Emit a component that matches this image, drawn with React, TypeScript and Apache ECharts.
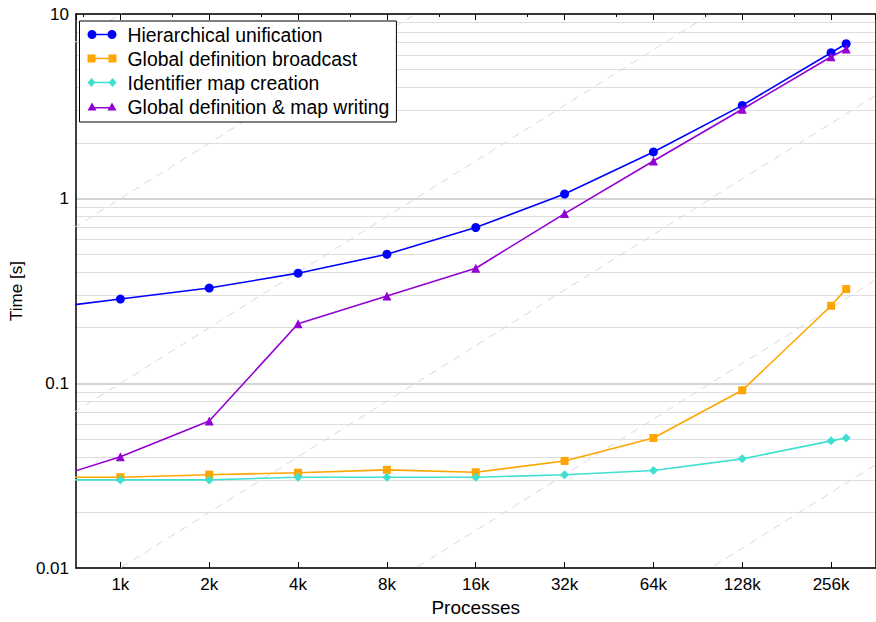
import React, { useEffect, useRef } from "react";
import * as echarts from "echarts";

const processes = [512, 1024, 2048, 4096, 8192, 16384, 32768, 65536, 131072, 262144, 294912];
const hierarchical = [0.25, 0.286, 0.328, 0.395, 0.5, 0.698, 1.06, 1.79, 3.2, 6.17, 6.9];
const broadcast = [0.031, 0.031, 0.032, 0.0328, 0.034, 0.033, 0.038, 0.0506, 0.0917, 0.263, 0.324];
const mapCreation = [0.03, 0.03, 0.03, 0.031, 0.031, 0.031, 0.032, 0.0337, 0.039, 0.0488, 0.0506];
const mapWriting = [0.0283, 0.04, 0.0625, 0.21, 0.297, 0.42, 0.83, 1.6, 3.05, 5.87, 6.46];

const seriesNames = [
  "Hierarchical unification",
  "Global definition broadcast",
  "Identifier map creation",
  "Global definition & map writing",
];
const seriesColors = ["#0000ff", "#ffa500", "#40e0d0", "#9400d3"];
const seriesSymbols = ["circle", "rect", "diamond", "triangle"];
const seriesSizes = [9, 8, 9, 9];

// legend icons: line with a marker at each end (29 x 9 box)
const legendIcons = [
  "path://M4.5,3.75L24.5,3.75L24.5,5.25L4.5,5.25Z M0,4.5a4.5,4.5 0 1,1 9,0a4.5,4.5 0 1,1 -9,0Z M20,4.5a4.5,4.5 0 1,1 9,0a4.5,4.5 0 1,1 -9,0Z",
  "path://M4,3.75L25,3.75L25,5.25L4,5.25Z M0,0.5L8,0.5L8,8.5L0,8.5Z M21,0.5L29,0.5L29,8.5L21,8.5Z",
  "path://M4,3.75L25,3.75L25,5.25L4,5.25Z M4,0L8,4.5L4,9L0,4.5Z M25,0L29,4.5L25,9L21,4.5Z",
  "path://M4.5,5L24.5,5L24.5,6.5L4.5,6.5Z M4.5,0.5L9,8.5L0,8.5Z M24.5,0.5L29,8.5L20,8.5Z",
];

// minor horizontal grid lines (2..9 × decade)
const minorGrid = [
  0.02, 0.03, 0.04, 0.05, 0.06, 0.07, 0.08, 0.09,
  0.2, 0.3, 0.4, 0.5, 0.6, 0.7, 0.8, 0.9,
  2, 3, 4, 5, 6, 7, 8, 9,
];
// ideal linear-scaling reference lines: time at 1k processes
const idealAt1k = [0.0001, 0.001, 0.01, 0.1, 1, 10];
const idealRange = [256, 1048576];

const X_MIN = Math.pow(2, 9.5);
const X_MAX = Math.pow(2, 18.5);
const FONT = "Liberation Sans, Arial, Helvetica, sans-serif";

export default function App() {
  const ref = useRef<HTMLDivElement>(null);
  useEffect(() => {
    if (!ref.current) return;
    const chart = echarts.init(ref.current, undefined, { renderer: "svg" });
    const xFmt = (v: number) => Math.round(v / 1024) + "k";
    const yFmt = (v: number) => {
      const r = Math.round(Math.log10(v));
      const p = Math.pow(10, r);
      return r >= 0 ? String(p) : p.toFixed(-r);
    };
    const baseX = {
      type: "log" as const,
      logBase: 2,
      min: X_MIN,
      max: X_MAX,
      splitNumber: 9,
      axisLine: { show: true, lineStyle: { color: "#000", width: 1.5 } },
      axisTick: { show: true, inside: true, length: 6, lineStyle: { color: "#000" } },
      splitLine: { show: false },
    };
    const baseY = {
      type: "log" as const,
      logBase: 10,
      min: 0.01,
      max: 10,
      axisLine: { show: true, lineStyle: { color: "#000", width: 1.5 } },
      axisTick: { show: false },
    };
    const idealSeries = idealAt1k.map((b, i) => ({
      type: "line",
      name: "ideal" + i,
      silent: true,
      clip: true,
      symbol: "none",
      data: idealRange.map((p) => [p, (b * p) / 1024]),
      lineStyle: { color: "#d9d9d9", width: 1, type: [8, 6] },
      z: 1,
      ...(i === 0
        ? {
            markLine: {
              silent: true,
              symbol: "none",
              label: { show: false },
              lineStyle: { color: "#dedede", width: 1, type: "solid" },
              data: minorGrid.map((v) => ({ yAxis: v })),
              z: 0,
            },
          }
        : {}),
    }));
    const dataArrays = [hierarchical, broadcast, mapCreation, mapWriting];
    const dataSeries = seriesNames.map((name, i) => ({
      type: "line",
      name,
      clip: true,
      symbol: seriesSymbols[i],
      symbolSize: seriesSizes[i],
      color: seriesColors[i],
      lineStyle: { width: 1.6, color: seriesColors[i] },
      itemStyle: { color: seriesColors[i] },
      data: processes.map((p, j) => [p, dataArrays[i][j]]),
      z: 3 + i,
    }));
    chart.setOption({
      animation: false,
      backgroundColor: "#fff",
      textStyle: { fontFamily: FONT },
      grid: { left: 72.5, right: 0.5, top: 14, bottom: 50, containLabel: false },
      legend: {
        data: seriesNames.map((n, i) => ({ name: n, icon: legendIcons[i] })),
        orient: "vertical",
        left: 79.5,
        top: 21,
        padding: [4, 7, 6, 8],
        itemGap: 5,
        itemWidth: 29,
        itemHeight: 9,
        itemStyle: { borderWidth: 0 },
        backgroundColor: "#fff",
        borderColor: "#000",
        borderWidth: 1,
        borderRadius: 0,
        textStyle: { fontSize: 19.4, color: "#000", fontFamily: FONT, padding: [0, 0, 0, 6] },
        z: 10,
      },
      xAxis: [
        {
          ...baseX,
          position: "bottom",
          name: "Processes",
          nameLocation: "middle",
          nameGap: 30,
          nameTextStyle: { fontSize: 19, color: "#000", fontFamily: FONT },
          axisLabel: {
            show: true,
            fontSize: 17,
            color: "#000",
            fontFamily: FONT,
            margin: 8,
            showMinLabel: false,
            showMaxLabel: false,
            formatter: xFmt,
          },
        },
        {
          ...baseX,
          position: "top",
          axisLabel: { show: false },
          minorTick: { show: true, splitNumber: 2, length: 3, lineStyle: { color: "#000" } },
        },
      ],
      yAxis: [
        {
          ...baseY,
          position: "left",
          name: "Time [s]",
          nameLocation: "middle",
          nameGap: 48,
          nameTextStyle: { fontSize: 17, color: "#000", fontFamily: FONT },
          axisLabel: { show: true, fontSize: 17, color: "#000", fontFamily: FONT, margin: 7, formatter: yFmt },
          splitLine: { show: true, lineStyle: { color: "#d4d4d4", width: 2 } },
        },
        {
          ...baseY,
          position: "right",
          axisLabel: { show: false },
          splitLine: { show: false },
        },
      ],
      series: [...idealSeries, ...dataSeries],
    });
    return () => chart.dispose();
  }, []);
  return <div ref={ref} style={{ width: 876, height: 622, position: "absolute", left: 0, top: 0 }} />;
}
